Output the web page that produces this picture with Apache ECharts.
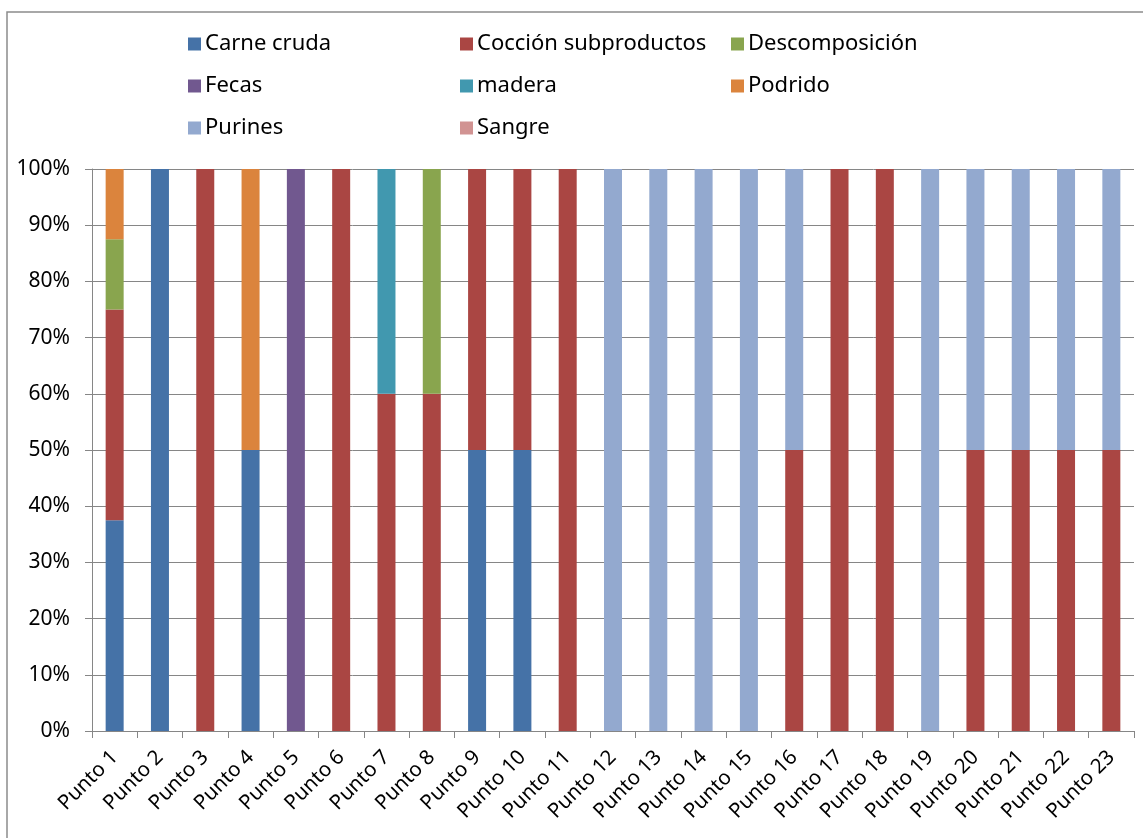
<!DOCTYPE html>
<html>
<head>
<meta charset="utf-8">
<script src="https://cdn.jsdelivr.net/npm/echarts@6/dist/echarts.min.js"></script>
<style>
html, body { margin: 0; padding: 0; background: #fff; }
#container { width: 1143px; height: 838px; }
</style>
</head>
<body>
<div id="container"></div>
<script>
var puntos = ['Punto 1','Punto 2','Punto 3','Punto 4','Punto 5','Punto 6','Punto 7','Punto 8',
    'Punto 9','Punto 10','Punto 11','Punto 12','Punto 13','Punto 14','Punto 15','Punto 16',
    'Punto 17','Punto 18','Punto 19','Punto 20','Punto 21','Punto 22','Punto 23'];

var carneCruda      = [37.5,100,0,50,0,0,0,0,50,50,0,0,0,0,0,0,0,0,0,0,0,0,0];
var coccion         = [37.5,0,100,0,0,100,60,60,50,50,100,0,0,0,0,50,100,100,0,50,50,50,50];
var descomposicion  = [12.5,0,0,0,0,0,0,40,0,0,0,0,0,0,0,0,0,0,0,0,0,0,0];
var fecas           = [0,0,0,0,100,0,0,0,0,0,0,0,0,0,0,0,0,0,0,0,0,0,0];
var madera          = [0,0,0,0,0,0,40,0,0,0,0,0,0,0,0,0,0,0,0,0,0,0,0];
var podrido         = [12.5,0,0,50,0,0,0,0,0,0,0,0,0,0,0,0,0,0,0,0,0,0,0];
var purines         = [0,0,0,0,0,0,0,0,0,0,0,100,100,100,100,50,0,0,100,50,50,50,50];
var sangre          = [0,0,0,0,0,0,0,0,0,0,0,0,0,0,0,0,0,0,0,0,0,0,0];

var yTicks = [0,10,20,30,40,50,60,70,80,90,100];

var seriesDefs = [
    {name: 'Carne cruda', data: carneCruda, color: '#4572A7'},
    {name: 'Cocción subproductos', data: coccion, color: '#AA4643'},
    {name: 'Descomposición', data: descomposicion, color: '#89A54E'},
    {name: 'Fecas', data: fecas, color: '#71588F'},
    {name: 'madera', data: madera, color: '#4198AF'},
    {name: 'Podrido', data: podrido, color: '#DB843D'},
    {name: 'Purines', data: purines, color: '#93A9CF'},
    {name: 'Sangre', data: sangre, color: '#D19392'}
];

var font = 'Noto Sans';
var chart = echarts.init(document.getElementById('container'));

var legendPos = [
    {left: 183, top: 28}, {left: 455, top: 28}, {left: 726, top: 28},
    {left: 183, top: 70}, {left: 455, top: 70}, {left: 726, top: 70},
    {left: 183, top: 112}, {left: 455, top: 112}
];

chart.setOption({
    animation: false,
    color: seriesDefs.map(function (s) { return s.color; }),
    graphic: [{
        type: 'rect',
        shape: {x: 7, y: 12, width: 1150, height: 840},
        style: {fill: 'none', stroke: '#8c8c8c', lineWidth: 1.5},
        silent: true
    }],
    legend: legendPos.map(function (p, i) {
        return {
            left: p.left, top: p.top,
            data: [seriesDefs[i].name],
            icon: 'rect',
            itemWidth: 13, itemHeight: 13, itemGap: 0,
            textStyle: {fontFamily: font, fontSize: 22, color: '#000', padding: [0, 0, 0, -1]}
        };
    }),
    grid: {left: 92, right: 9, top: 169, bottom: 107, containLabel: false},
    xAxis: {
        type: 'category',
        data: puntos,
        axisLine: {lineStyle: {color: '#868686'}},
        axisTick: {show: true, length: 7, lineStyle: {color: '#868686'}},
        axisLabel: {rotate: 45, margin: 23, interval: 0, fontFamily: font, fontSize: 20.5, color: '#000'}
    },
    yAxis: {
        type: 'value',
        min: 0, max: 100, interval: 10,
        axisLine: {show: true, lineStyle: {color: '#868686'}},
        axisTick: {show: true, length: 7, lineStyle: {color: '#868686'}},
        splitLine: {lineStyle: {color: '#868686', width: 1}},
        axisLabel: {
            margin: 22, fontFamily: font, fontSize: 21, color: '#000',
            formatter: function (v) { return yTicks.indexOf(v) >= 0 ? v + '%' : ''; }
        }
    },
    series: seriesDefs.map(function (s) {
        return {
            name: s.name,
            type: 'bar',
            stack: 'total',
            barWidth: 18,
            data: s.data,
            itemStyle: {color: s.color}
        };
    })
});
</script>
</body>
</html>
